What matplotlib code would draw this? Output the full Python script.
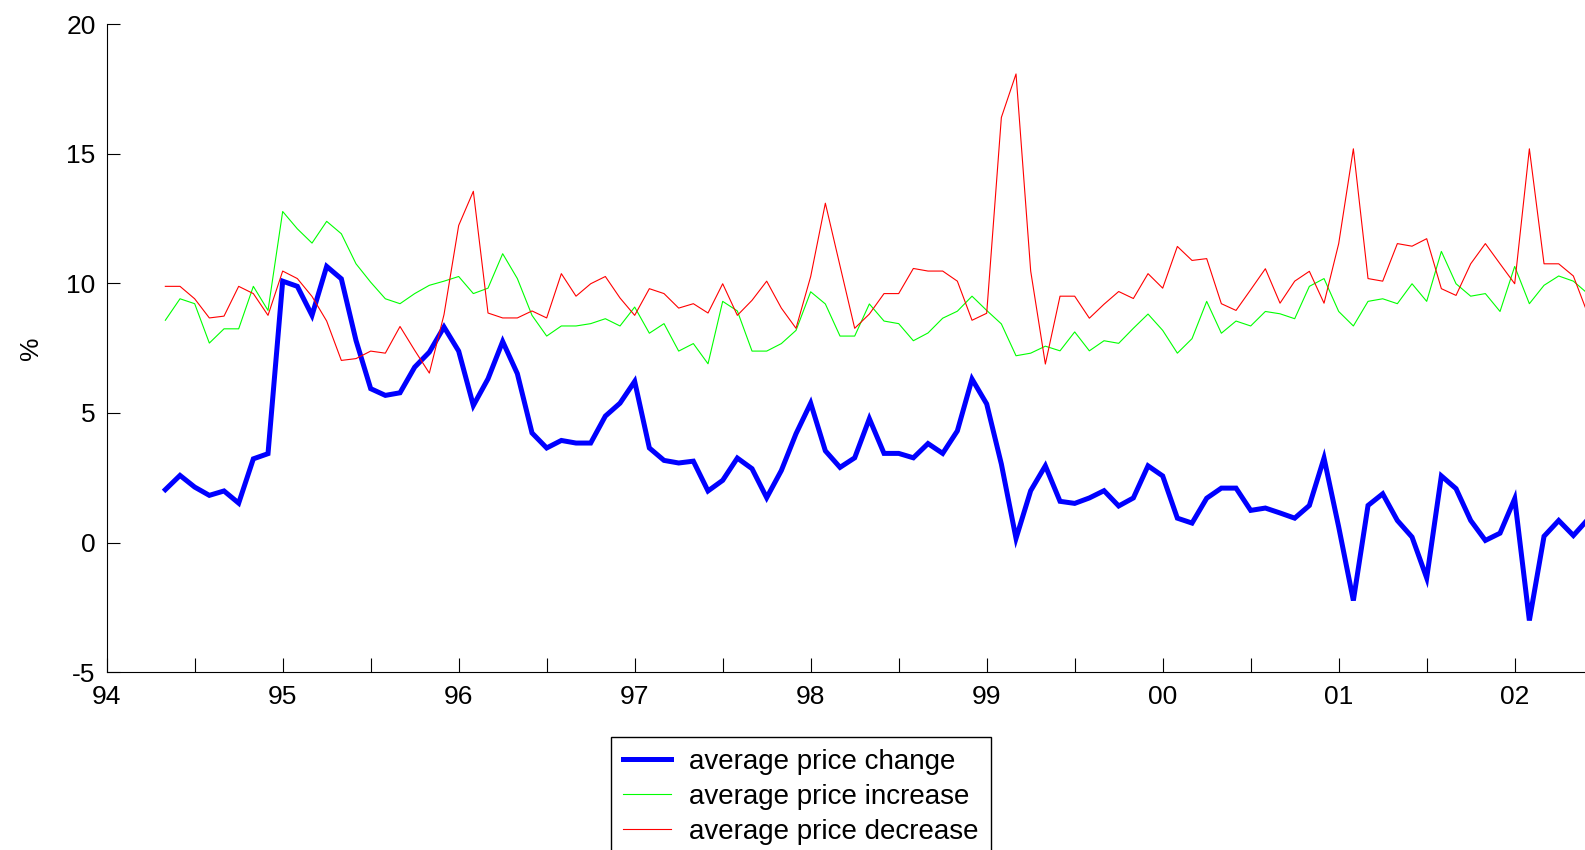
import numpy as np
import pandas as pd
import matplotlib
matplotlib.use('Agg')
import matplotlib.pyplot as plt

# monthly series, May 1994 onwards (%)
avg_change = [
    2.04, 2.59, 2.14, 1.82, 1.99, 1.52, 3.23, 3.43,
    10.09, 9.89, 8.77, 10.66, 10.18, 7.80, 5.94, 5.68, 5.78, 6.77, 7.35, 8.32,
    7.39, 5.29, 6.32, 7.76, 6.52, 4.23, 3.65, 3.94, 3.84, 3.84, 4.88, 5.38,
    6.22, 3.65, 3.17, 3.07, 3.14, 1.99, 2.40, 3.26, 2.85, 1.73, 2.78, 4.20,
    5.38, 3.54, 2.90, 3.27, 4.78, 3.44, 3.44, 3.27, 3.82, 3.44, 4.31, 6.31,
    5.35, 3.03, 0.16, 2.00, 2.96, 1.59, 1.51, 1.72, 2.00, 1.41, 1.72, 2.96,
    2.57, 0.94, 0.75, 1.71, 2.10, 2.10, 1.24, 1.33, 1.14, 0.94, 1.43, 3.26,
    0.60, -2.24, 1.43, 1.88, 0.85, 0.21, -1.37, 2.57, 2.08, 0.85, 0.08, 0.36,
    1.69, -3.01, 0.24, 0.85, 0.27, 0.90,
]
avg_increase = [
    8.58, 9.41, 9.22, 7.70, 8.25, 8.25, 9.89, 8.96,
    12.78, 12.11, 11.56, 12.40, 11.92, 10.76, 10.05, 9.41, 9.22, 9.61, 9.93, 10.09,
    10.27, 9.61, 9.82, 11.15, 10.19, 8.77, 7.97, 8.36, 8.36, 8.45, 8.64, 8.36,
    9.09, 8.08, 8.45, 7.39, 7.68, 6.90, 9.31, 8.94, 7.39, 7.39, 7.68, 8.19,
    9.68, 9.21, 7.97, 7.97, 9.21, 8.55, 8.45, 7.79, 8.09, 8.66, 8.93, 9.51,
    8.96, 8.44, 7.21, 7.31, 7.58, 7.40, 8.13, 7.40, 7.79, 7.69, 8.27, 8.82,
    8.19, 7.31, 7.87, 9.31, 8.08, 8.55, 8.36, 8.92, 8.83, 8.64, 9.89, 10.19,
    8.92, 8.36, 9.31, 9.41, 9.22, 9.99, 9.31, 11.24, 9.99, 9.51, 9.61, 8.92,
    10.66, 9.22, 9.93, 10.29, 10.09, 9.60,
]
avg_decrease = [
    9.89, 9.89, 9.41, 8.67, 8.74, 9.89, 9.61, 8.77,
    10.48, 10.19, 9.50, 8.55, 7.03, 7.10, 7.39, 7.31, 8.34, 7.42, 6.54, 8.80,
    12.24, 13.56, 8.86, 8.67, 8.67, 8.94, 8.67, 10.38, 9.51, 9.99, 10.27, 9.44,
    8.77, 9.80, 9.61, 9.05, 9.22, 8.86, 9.99, 8.77, 9.35, 10.09, 9.05, 8.27,
    10.27, 13.10, 10.68, 8.27, 8.82, 9.61, 9.61, 10.58, 10.48, 10.48, 10.09, 8.58,
    8.85, 16.41, 18.09, 10.48, 6.89, 9.51, 9.51, 8.66, 9.20, 9.69, 9.42, 10.38,
    9.82, 11.43, 10.89, 10.96, 9.22, 8.96, 9.76, 10.57, 9.24, 10.09, 10.47, 9.24,
    11.54, 15.20, 10.19, 10.09, 11.54, 11.44, 11.73, 9.80, 9.54, 10.76, 11.54, 10.76,
    9.99, 15.20, 10.76, 10.76, 10.29, 8.80,
]
year_ticks = [94, 95, 96, 97, 98, 99, 100, 101, 102]
year_labels = ['94', '95', '96', '97', '98', '99', '00', '01', '02']
y_ticks = [-5, 0, 5, 10, 15, 20]

dates = pd.date_range('1994-05-01', periods=len(avg_change), freq='MS')
x = 94 + (dates.year - 1994) + (dates.month - 1) / 12.0

plt.rcParams['font.family'] = ['Liberation Sans', 'DejaVu Sans']
plt.rcParams['axes.unicode_minus'] = False

fig = plt.figure(figsize=(15.85, 8.5), dpi=100)
ax = fig.add_axes([0.0673, 0.2094, 0.9327, 0.7618])

l1, = ax.plot(x, avg_change, color='#0000ff', lw=3.6, solid_joinstyle='miter')
l2, = ax.plot(x, avg_increase, color='#00ff00', lw=0.8)
l3, = ax.plot(x, avg_decrease, color='#ff0000', lw=0.8)

ax.set_xlim(94, 94 + (1585 - 106.7) / 176.0)
ax.set_ylim(-5, 20)
ax.set_xticks(year_ticks)
ax.set_xticklabels(year_labels)
ax.set_xticks([t + 0.5 for t in year_ticks[:-1]], minor=True)
ax.set_yticks(y_ticks)
ax.tick_params(axis='both', which='both', direction='in', labelsize=19, width=0.8, color='black')
ax.tick_params(axis='x', which='both', length=10, pad=9)
ax.tick_params(axis='y', which='major', length=9.5, pad=8)
ax.spines['top'].set_visible(False)
ax.spines['right'].set_visible(False)
ax.set_ylabel('%', fontsize=19, labelpad=17)

fig.legend([l1, l2, l3],
           ['average price change', 'average price increase', 'average price decrease'],
           loc='upper left', bbox_to_anchor=(611 / 1585, 1 - 737 / 850),
           fontsize=20, frameon=True, fancybox=False, edgecolor='black',
           framealpha=1, handlelength=1.75, handletextpad=0.65,
           labelspacing=0.33, borderpad=0.42, borderaxespad=0)

fig.savefig('out.png', dpi=100)
